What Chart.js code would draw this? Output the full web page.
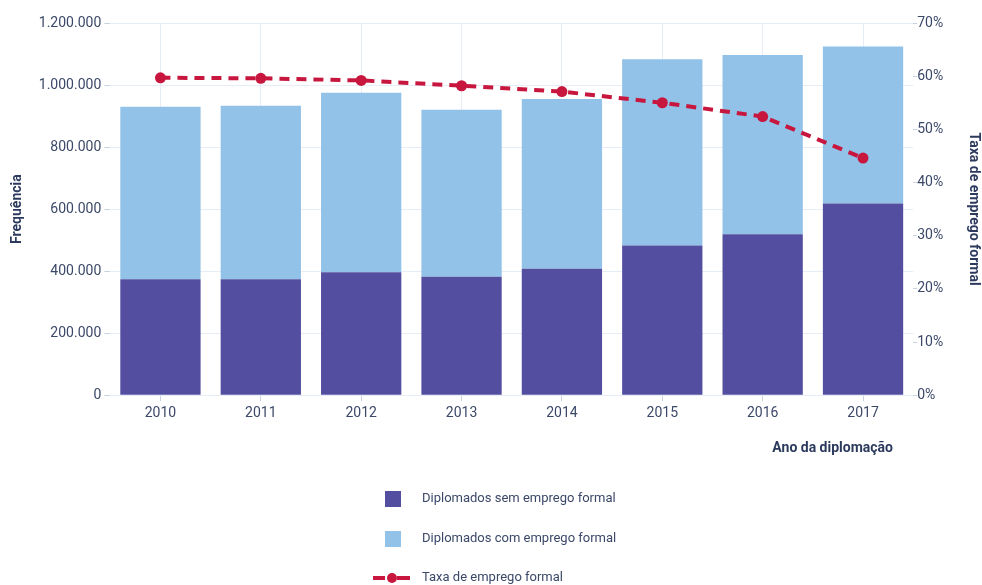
<!DOCTYPE html>
<html>
<head>
<meta charset="utf-8">
<script src="https://cdn.jsdelivr.net/npm/chart.js@4"></script>
<style>
  html, body { margin: 0; padding: 0; background: #fff; }
  #wrap { width: 982px; height: 585px; position: relative; }
</style>
</head>
<body>
<div id="wrap"><canvas id="chart" width="982" height="585"></canvas></div>
<script>
const years = ["2010", "2011", "2012", "2013", "2014", "2015", "2016", "2017"];

// valores (aprox.)
const semEmprego = [374000, 374000, 396000, 382000, 408000, 483000, 519000, 618000];
const comEmprego = [556000, 559000, 579000, 538000, 547000, 600000, 578000, 506000];
const taxaEmprego = [59.7, 59.6, 59.2, 58.2, 57.1, 55.0, 52.4, 44.6];

const dark = "#534e9f";
const light = "#92c2e7";
const red = "#c8173f";
const textColor = "#3b4868";
const titleColor = "#2c3a5e";
const gridColor = "#e6edf6";

const fmt = v => String(v).replace(/\B(?=(\d{3})+(?!\d))/g, ".");

// legenda desenhada à mão, empilhada embaixo do gráfico
const stackedLegend = {
  id: "stackedLegend",
  afterDraw(chart) {
    const ctx = chart.ctx;
    const x0 = 385;
    const rows = [499, 539, 578];
    ctx.save();
    ctx.font = "13px Roboto";
    ctx.textBaseline = "middle";
    ctx.fillStyle = textColor;
    chart.data.datasets.forEach((ds, i) => {
      const y = rows[i];
      if (ds.type === "line") {
        ctx.strokeStyle = ds.borderColor;
        ctx.lineWidth = 4;
        ctx.setLineDash([]);
        ctx.beginPath(); ctx.moveTo(373, y); ctx.lineTo(385, y); ctx.stroke();
        ctx.beginPath(); ctx.moveTo(397, y); ctx.lineTo(410, y); ctx.stroke();
        ctx.fillStyle = ds.borderColor;
        ctx.beginPath(); ctx.arc(392, y, 5, 0, Math.PI * 2); ctx.fill();
      } else {
        ctx.fillStyle = ds.backgroundColor;
        ctx.fillRect(x0, y - 8, 16, 16);
      }
      ctx.fillStyle = textColor;
      ctx.fillText(ds.label, 422, y);
    });
    // título do eixo x, alinhado à direita
    ctx.font = "bold 14px Roboto";
    ctx.fillStyle = titleColor;
    ctx.textAlign = "right";
    ctx.fillText("Ano da diplomação", 893, 448);
    ctx.restore();
  }
};

const ctx = document.getElementById("chart").getContext("2d");

new Chart(ctx, {
  data: {
    labels: years,
    datasets: [
      {
        type: "bar",
        label: "Diplomados sem emprego formal",
        data: semEmprego,
        backgroundColor: dark,
        yAxisID: "y",
        order: 2,
        barPercentage: 0.8,
        categoryPercentage: 1.0
      },
      {
        type: "bar",
        label: "Diplomados com emprego formal",
        data: comEmprego,
        backgroundColor: light,
        yAxisID: "y",
        order: 2,
        barPercentage: 0.8,
        categoryPercentage: 1.0
      },
      {
        type: "line",
        label: "Taxa de emprego formal",
        data: taxaEmprego,
        borderColor: red,
        backgroundColor: red,
        borderWidth: 4,
        borderDash: [10, 7],
        pointRadius: 5.5,
        pointHoverRadius: 5.5,
        pointBorderWidth: 0,
        tension: 0,
        yAxisID: "y1",
        order: 1
      }
    ]
  },
  options: {
    responsive: false,
    animation: false,
    layout: { padding: { left: 9, right: 0, top: 23, bottom: 159 } },
    plugins: {
      legend: { display: false },
      tooltip: { enabled: false }
    },
    scales: {
      x: {
        stacked: true,
        grid: { offset: false, color: gridColor, tickLength: 6, tickColor: "#c9d2de" },
        border: { display: false },
        ticks: { color: textColor, font: { family: "Roboto", size: 14 }, padding: 4 }
      },
      y: {
        stacked: true,
        min: 0,
        max: 1200000,
        position: "left",
        border: { display: false },
        grid: { color: gridColor, tickLength: 6, tickColor: "#c9d2de" },
        ticks: {
          stepSize: 200000,
          color: textColor,
          font: { family: "Roboto", size: 14 },
          padding: 3,
          callback: v => fmt(v)
        },
        title: {
          display: true,
          text: "Frequência",
          color: titleColor,
          font: { family: "Roboto", size: 14, weight: "bold" },
          padding: { top: 0, bottom: 10 }
        }
      },
      y1: {
        min: 0,
        max: 70,
        position: "right",
        border: { display: false },
        grid: { drawOnChartArea: false, tickLength: 4, tickColor: "#c9d2de" },
        ticks: {
          stepSize: 10,
          color: textColor,
          font: { family: "Roboto", size: 14 },
          padding: 0,
          callback: v => v + "%"
        },
        title: {
          display: true,
          text: "Taxa de emprego formal",
          color: titleColor,
          font: { family: "Roboto", size: 14, weight: "bold" },
          padding: { top: 0, bottom: 22 }
        }
      }
    }
  },
  plugins: [stackedLegend]
});
</script>
</body>
</html>
